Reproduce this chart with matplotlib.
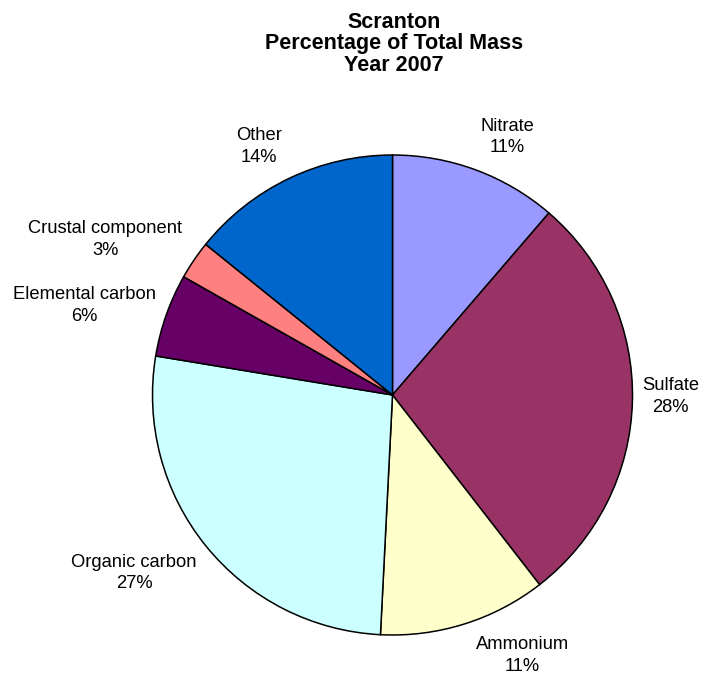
import matplotlib
matplotlib.use("Agg")
import matplotlib.pyplot as plt

categories = ["Nitrate", "Sulfate", "Ammonium", "Organic carbon",
              "Elemental carbon", "Crustal component", "Other"]
values = [11.3, 28.2, 11.3, 26.8, 5.6, 2.6, 14.2]
colors = ["#9999FF", "#993366", "#FFFFCC", "#CCFFFF", "#660066", "#FF8080", "#0066CC"]
title = "Scranton\nPercentage of Total Mass\nYear 2007"

# label positions (data units, pie radius = 1)
label_pos = [(0.477, 1.075), (1.159, -0.007), (0.541, -1.085), (-1.077, -0.742),
             (-1.285, 0.373), (-1.197, 0.648), (-0.556, 1.036)]

plt.rcParams['font.family'] = ['Liberation Sans', 'DejaVu Sans']

W, H = 701, 681
fig = plt.figure(figsize=(W / 100, H / 100), dpi=100)
cx, cy, r = 392.5, 395, 240
ax = fig.add_axes([(cx - r) / W, (H - cy - r) / H, 2 * r / W, 2 * r / H])

ax.pie(values, colors=colors, startangle=90, counterclock=False, radius=1,
       wedgeprops=dict(edgecolor="black", linewidth=1.1))
ax.set_xlim(-1, 1)
ax.set_ylim(-1, 1)
ax.set_aspect("equal")
ax.axis("off")

for name, v, (x, y) in zip(categories, values, label_pos):
    ax.text(x, y, f"{name}\n{round(v)}%", ha="center", va="center",
            fontsize=13.2, linespacing=1.36, clip_on=False)

fig.text(394 / W, 1 - 44 / H, title, ha="center", va="center",
         fontsize=15.5, fontweight="bold", linespacing=1.06)

fig.savefig("out.png", dpi=100)
